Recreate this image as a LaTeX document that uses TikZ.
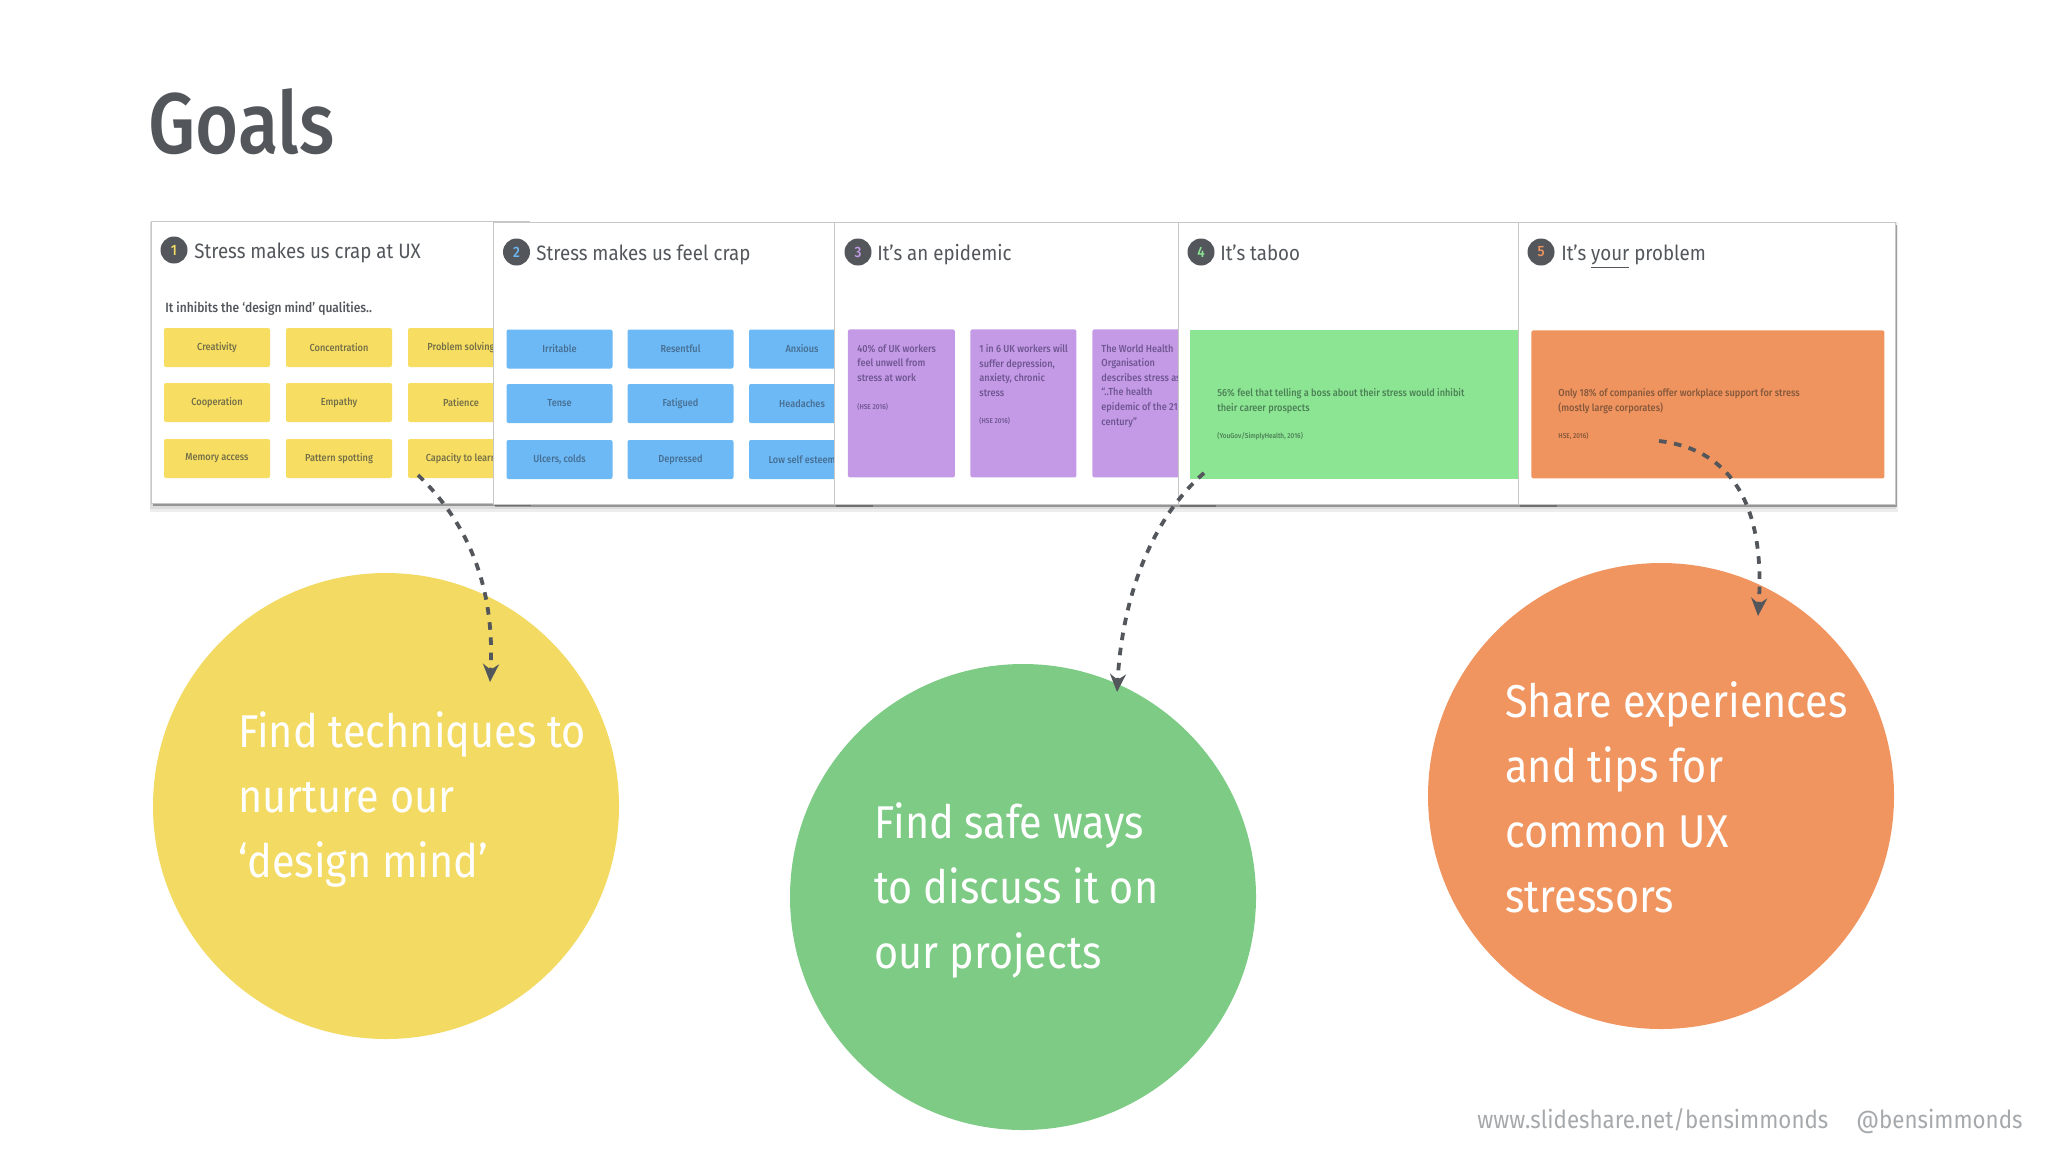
\documentclass[tikz,border=0pt]{standalone}
\usepackage{fontspec}
\usetikzlibrary{shadows,arrows.meta}
\setmainfont[FakeStretch=0.9]{Fira Sans}
\newfontfamily\titlefont[FakeStretch=0.86]{Fira Sans Medium}
\newfontfamily\tinyfont[FakeStretch=0.9]{Fira Sans Medium}
\definecolor{ink}{HTML}{53575C}
\definecolor{cyellow}{HTML}{F7DE62}
\definecolor{cblue}{HTML}{6DB9F5}
\definecolor{cpurple}{HTML}{C49AE6}
\definecolor{cgreen}{HTML}{8CE592}
\definecolor{corange}{HTML}{EF945F}
\definecolor{dyellow}{HTML}{F2DA63}
\definecolor{dgreen}{HTML}{7DCB85}
\definecolor{dorange}{HTML}{F09560}
\definecolor{foot}{HTML}{A6A9AC}
\definecolor{ytext}{HTML}{736E48}
\definecolor{btext}{HTML}{466E92}
\definecolor{ptxt}{HTML}{6E5590}
\definecolor{gtxt}{HTML}{4B7F56}
\definecolor{otxt}{HTML}{84573B}
\tikzset{
  x=0.5pt,y=-0.5pt,
  card/.style={anchor=north west,fill=white,draw=black!22,line width=0.4pt,minimum height=141pt,inner sep=0pt,
    general shadow={shadow xshift=0.8pt,shadow yshift=-1.5pt,fill=black!75,opacity=.45}},
  softshade/.style={anchor=north west,inner sep=0pt,fill=black,opacity=.07},
  badgesmall/.style={circle,fill=ink,minimum size=13.5pt,inner sep=0pt,font=\tinyfont\fontsize{7.5}{8}\selectfont},
  head/.style={anchor=base west,inner sep=0pt,text=ink,font=\fontsize{10.4}{12}\selectfont},
  tile/.style={rectangle,rounded corners=1pt,inner sep=0pt,minimum width=53pt,minimum height=19.5pt,font=\tinyfont\fontsize{5.1}{6}\selectfont},
  ytile/.style={tile,fill=cyellow,text=ytext},
  btile/.style={tile,fill=cblue,text=btext},
  ptile/.style={rectangle,rounded corners=1pt,inner sep=0pt,anchor=north west,fill=cpurple,minimum height=74pt},
  ptext/.style={anchor=north west,inner sep=0pt,align=left,text=ptxt,font=\tinyfont\fontsize{5.1}{7.3}\selectfont},
  cite/.style={anchor=base west,inner sep=0pt,font=\tinyfont\fontsize{3.6}{4}\selectfont},
  disc/.style={circle,minimum size=233pt,inner sep=0pt},
  disctext/.style={anchor=north west,inner sep=0pt,align=left,text=white,font=\fontsize{23}{32.5}\selectfont},
  link/.style={ink,line width=1.9pt,dash pattern=on 3.8pt off 3.8pt,-{Stealth[length=9pt,width=8pt]}},
  foottext/.style={anchor=base west,inner sep=0pt,text=foot,font=\fontsize{12.4}{14}\selectfont},
}
\begin{document}
\begin{tikzpicture}
\useasboundingbox (0,0) rectangle (2048,1152);
\node[anchor=base west,inner sep=0pt,text=ink,font=\titlefont\fontsize{43}{50}\selectfont] (title) at (148,153) {Goals};

\node[softshade,minimum width=874pt,minimum height=145pt] (shade1) at (150,222) {};
\node[softshade,minimum width=873pt,minimum height=143.5pt] (shade2) at (150,222) {};

% card 1
\node[card,minimum width=189pt] (card1) at (150.5,221) {};
\node[badgesmall,text=dyellow] (b1) at (174,250) {1};
\node[head] (h1) at (194,258) {Stress makes us crap at UX};
\node[anchor=base west,inner sep=0pt,text=ink,font=\tinyfont\fontsize{6.7}{7}\selectfont] (sub) at (165,312) {It inhibits the ‘design mind’ qualities..};
\node[ytile] (y1) at (217,347.5) {Creativity};
\node[ytile] (y2) at (339,347.5) {Concentration};
\node[ytile] (y3) at (461,347.5) {Problem solving};
\node[ytile] (y4) at (217,402.5) {Cooperation};
\node[ytile] (y5) at (339,402.5) {Empathy};
\node[ytile] (y6) at (461,402.5) {Patience};
\node[ytile] (y7) at (217,458.5) {Memory access};
\node[ytile] (y8) at (339,458.5) {Pattern spotting};
\node[ytile] (y9) at (461,458.5) {Capacity to learn};

% card 2
\node[card,minimum width=189pt] (card2) at (493,221.5) {};
\node[badgesmall,text=cblue] (b2) at (516.5,252) {2};
\node[head] (h2) at (536,260) {Stress makes us feel crap};
\node[btile] (t1) at (559.5,349) {Irritable};
\node[btile] (t2) at (680.5,349) {Resentful};
\node[btile] (t3) at (802,349) {Anxious};
\node[btile] (t4) at (559.5,403.5) {Tense};
\node[btile] (t5) at (680.5,403.5) {Fatigued};
\node[btile] (t6) at (802,403.5) {Headaches};
\node[btile] (t7) at (559.5,459.5) {Ulcers, colds};
\node[btile] (t8) at (680.5,459.5) {Depressed};
\node[btile] (t9) at (802,459.5) {Low self esteem};

% card 3
\node[card,minimum width=190pt] (card3) at (834,221.5) {};
\node[badgesmall,text=cpurple] (b3) at (858,252) {3};
\node[head] (h3) at (877,260) {It’s an epidemic};
\node[ptile,minimum width=53.5pt] (p1) at (847.5,329) {};
\node[ptile,minimum width=53pt] (p2) at (970,329) {};
\node[ptile,minimum width=53.5pt] (p3) at (1092,329) {};
\node[ptext] (pt1) at (857,344) {40\% of UK workers\\feel unwell from\\stress at work};
\node[cite,text=ptxt] (pc1) at (857,409) {(HSE 2016)};
\node[ptext] (pt2) at (979,344) {1 in 6 UK workers will\\suffer depression,\\anxiety, chronic\\stress};
\node[cite,text=ptxt] (pc2) at (979,423) {(HSE 2016)};
\node[ptext] (pt3) at (1101,344) {The World Health\\Organisation\\describes stress as\\“..The health\\epidemic of the 21st\\century”};

% card 4
\node[card,minimum width=188.5pt] (card4) at (1177.5,221.5) {};
\node[badgesmall,text=cgreen] (b4) at (1201,252) {4};
\node[head] (h4) at (1220,260) {It’s taboo};
\node[anchor=north west,inner sep=0pt,minimum width=170pt,minimum height=74.5pt,fill=cgreen] (g1) at (1190,330) {};
\node[ptext,text=gtxt] (gt1) at (1217,388) {56\% feel that telling a boss about their stress would inhibit\\their career prospects};
\node[cite,text=gtxt] (gc1) at (1217,438) {(YouGov/SimplyHealth, 2016)};

% card 5
\node[card,minimum width=188.5pt] (card5) at (1518,221.5) {};
\node[badgesmall,text=corange] (b5) at (1541,252) {5};
\node[head] (h5) at (1561,260) {It’s \underline{your} problem};
\node[anchor=north west,rounded corners=1pt,inner sep=0pt,minimum width=176.5pt,minimum height=74pt,fill=corange] (o1) at (1531,330) {};
\node[ptext,text=otxt] (ot1) at (1558,388) {Only 18\% of companies offer workplace support for stress\\(mostly large corporates)};
\node[cite,text=otxt] (oc1) at (1558,438) {HSE, 2016)};

% discs
\node[disc,fill=dyellow] (d1) at (386,806) {};
\node[disc,fill=dgreen] (d2) at (1023,897) {};
\node[disc,fill=dorange] (d3) at (1661,796) {};
\node[disctext] (dt1) at (238,711) {Find techniques to\\nurture our\\‘design mind’};
\node[disctext] (dt2) at (874,802) {Find safe ways\\to discuss it on\\our projects};
\node[disctext] (dt3) at (1505,681) {Share experiences\\and tips for\\common UX\\stressors};

% connectors
\coordinate (s1) at (418,475);
\coordinate (e1) at (490,682);
\coordinate (s2) at (1204,473);
\coordinate (e2) at (1117,692);
\coordinate (s3) at (1659,441);
\coordinate (e3) at (1758,616);
\draw[link] (s1) .. controls (470,525) and (495,590) .. (e1);
\draw[link] (s2) .. controls (1150,520) and (1122,600) .. (e2);
\draw[link] (s3) .. controls (1735,450) and (1765,510) .. (e3);

% footer
\node[foottext] (f1) at (1477,1128) {www.slideshare.net/bensimmonds};
\node[foottext] (f2) at (1856,1128) {@bensimmonds};
\end{tikzpicture}
\end{document}
